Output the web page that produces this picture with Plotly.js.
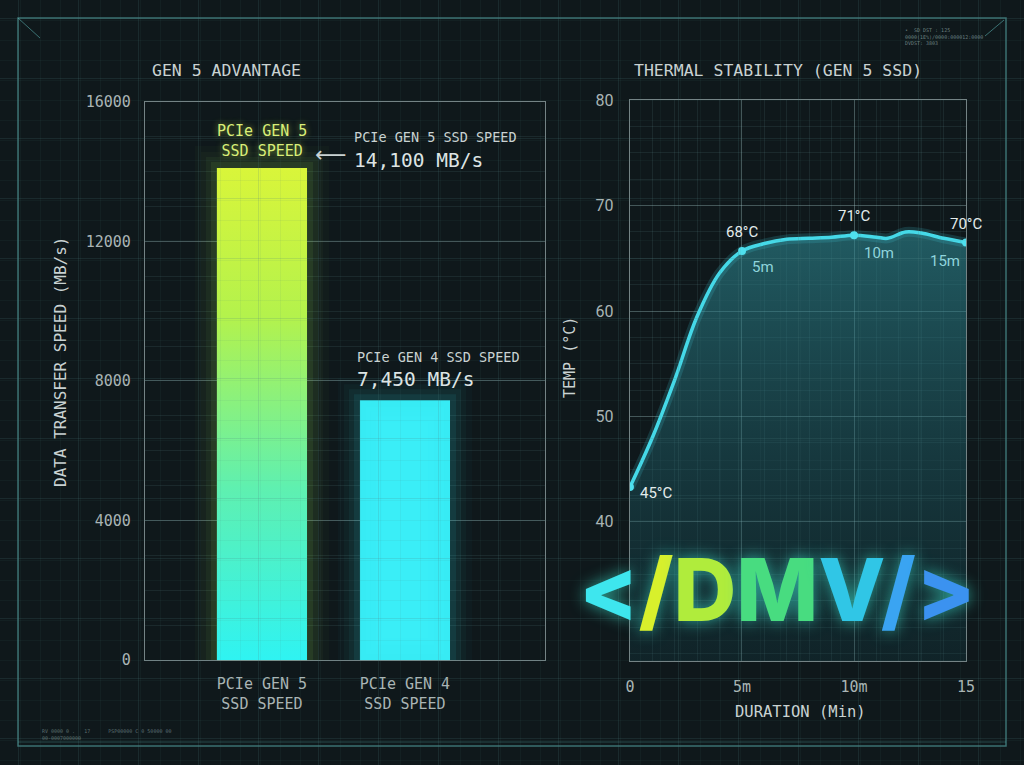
<!DOCTYPE html>
<html><head><meta charset="utf-8">
<script src="https://cdn.plot.ly/plotly-3.0.1.min.js"></script>
<style>html,body{margin:0;padding:0;background:#0e171a;} #chart{width:1024px;height:765px;}</style>
</head><body><div id="chart"></div>
<script>
// ---- data ----
const ssdCategories = ['PCIe GEN 5<br>SSD SPEED', 'PCIe GEN 4<br>SSD SPEED'];
const ssdSpeeds = [14100, 7450];
const speedTicks = [0, 4000, 8000, 12000, 16000];
const durationMin = [0, 1, 2, 3, 4, 5, 6, 7, 8, 9, 10, 11, 11.5, 12.3, 13, 14, 15];
const tempC = [43.3, 48.0, 53.5, 59.5, 63.6, 65.7, 66.4, 66.8, 66.9, 67.0, 67.2, 67.0, 66.9, 67.5, 67.4, 66.9, 66.5];
const markerMin = [0, 5, 10, 15];
const tempLabels = ['45°C', '68°C', '71°C', '70°C'];
const minuteLabels = ['', '5m', '10m', '15m'];
const durationTickVals = [0, 5, 10, 15];
const durationTickText = ['0', '5m', '10m', '15'];
const tempTicks = [40, 50, 60, 70, 80];

const MONO = 'DejaVu Sans Mono';
const TXT = '#c9d2d2';
const TICK = '#aab5b5';
const markerTemp = markerMin.map(m => tempC[durationMin.indexOf(m)]);
const barW = 0.63;
const catIdx = ssdSpeeds.map((_, i) => i);

function barOutline(i) {
  const x0 = catIdx[i] - barW / 2, x1 = catIdx[i] + barW / 2;
  return { x: [x0, x0, x1, x1, x0], y: [0, ssdSpeeds[i], ssdSpeeds[i], 0, 0] };
}
const gen5 = barOutline(0), gen4 = barOutline(1);

function glow(o, rgb) {
  return [[44, 0.025], [32, 0.035], [22, 0.05], [12, 0.08]].map(([w, a]) => ({
    type: 'scatter', x: o.x, y: o.y, mode: 'lines', line: { color: `rgba(${rgb},${a})`, width: w, shape: 'linear' },
    hoverinfo: 'skip', showlegend: false
  }));
}

const traces = [
  // background grid holder
  { type: 'scatter', x: [0], y: [0], xaxis: 'x3', yaxis: 'y3', mode: 'markers', marker: { opacity: 0 }, hoverinfo: 'skip', showlegend: false },
  ...glow(gen5, '160,240,90'),
  ...glow(gen4, '50,230,240'),
  // bars
  { type: 'bar', x: catIdx, y: ssdSpeeds, width: barW, marker: { color: ['#8cf06a', '#3aeef7'], line: { width: 0 } }, hoverinfo: 'y', showlegend: false },
  // gradient overlay for gen5 bar
  { type: 'scatter', x: gen5.x, y: gen5.y, mode: 'lines', fill: 'toself', line: { width: 0 },
    fillgradient: { type: 'vertical', colorscale: [[0, '#2ff3f2'], [0.35, '#5ff0b0'], [0.7, '#b4f24c'], [1, '#d9f53a']] },
    hoverinfo: 'skip', showlegend: false },
  // thermal fill
  { type: 'scatter', x: durationMin, y: tempC, xaxis: 'x2', yaxis: 'y2', mode: 'lines', line: { width: 0, shape: 'spline' }, fill: 'tozeroy',
    fillgradient: { type: 'vertical', start: 26.8, stop: 67.5, colorscale: [[0, 'rgba(20,70,80,0.25)'], [1, 'rgba(45,135,145,0.6)']] },
    hoverinfo: 'skip', showlegend: false },
  // line glow
  { type: 'scatter', x: durationMin, y: tempC, xaxis: 'x2', yaxis: 'y2', mode: 'lines', line: { width: 10, color: 'rgba(70,220,235,0.16)', shape: 'spline' }, hoverinfo: 'skip', showlegend: false },
  // line
  { type: 'scatter', x: durationMin, y: tempC, xaxis: 'x2', yaxis: 'y2', mode: 'lines', line: { width: 3.5, color: '#45d9e8', shape: 'spline' }, showlegend: false },
  // markers
  { type: 'scatter', x: markerMin, y: markerTemp, xaxis: 'x2', yaxis: 'y2', mode: 'markers', marker: { size: 8, color: '#4fe0ee' }, showlegend: false }
];

const P = (x, y) => ({ xref: 'paper', yref: 'paper', x: x / 1024, y: 1 - y / 765, showarrow: false });

const annotations = [
  Object.assign(P(150, 70), { xanchor: 'left', yanchor: 'middle', text: 'GEN 5 ADVANTAGE', font: { family: MONO, size: 16.5, color: TXT } }),
  Object.assign(P(632, 70), { xanchor: 'left', yanchor: 'middle', text: 'THERMAL STABILITY (GEN 5 SSD)', font: { family: MONO, size: 16.5, color: TXT } }),
  Object.assign(P(60, 362), { xanchor: 'center', yanchor: 'middle', textangle: -90, text: 'DATA TRANSFER SPEED (MB/s)', font: { family: MONO, size: 16, color: TXT } }),
  Object.assign(P(570, 358), { xanchor: 'center', yanchor: 'middle', textangle: -90, text: 'TEMP (°C)', font: { family: MONO, size: 15, color: TXT } }),
  Object.assign(P(800, 712), { xanchor: 'center', yanchor: 'middle', text: 'DURATION (Min)', font: { family: MONO, size: 15.5, color: TXT } }),
  // bar annotations
  { x: catIdx[0], y: ssdSpeeds[0], xanchor: 'center', yanchor: 'bottom', yshift: 6, showarrow: false, text: 'PCIe GEN 5<br>SSD SPEED', align: 'center', font: { family: MONO, size: 15, color: '#d9ee78', shadow: '0 0 6px rgba(200,240,80,0.6)' } },
  { x: 0.36, y: 14480, xanchor: 'left', yanchor: 'middle', showarrow: false, text: '⟵', font: { family: 'DejaVu Sans', size: 22, color: TXT } },
  { x: 0.63, y: 14996, xanchor: 'left', yanchor: 'middle', showarrow: false, text: 'PCIe GEN 5 SSD SPEED', font: { family: MONO, size: 13.5, color: TXT } },
  { x: 0.63, y: 14330, xanchor: 'left', yanchor: 'middle', showarrow: false, text: ssdSpeeds[0].toLocaleString('en-US') + ' MB/s', font: { family: MONO, size: 19.5, color: '#dde4e4' } },
  { x: 0.65, y: 8688, xanchor: 'left', yanchor: 'middle', showarrow: false, text: 'PCIe GEN 4 SSD SPEED', font: { family: MONO, size: 13.5, color: TXT } },
  { x: 0.65, y: 8030, xanchor: 'left', yanchor: 'middle', showarrow: false, text: ssdSpeeds[1].toLocaleString('en-US') + ' MB/s', font: { family: MONO, size: 19.5, color: '#dde4e4' } },
  // logo
  Object.assign(P(777, 589), { xanchor: 'center', yanchor: 'middle',
    text: '<span style="color:#3ee6ee">&lt;</span><span style="color:#d8f02c">/</span><span style="color:#b0ec3c">D</span><span style="color:#48dc80">M</span><span style="color:#30c6e6">V</span><span style="color:#3aa4f2">/</span><span style="color:#3b92f0">&gt;</span>',
    font: { family: 'Inter', size: 87, weight: 800, color: '#3ee6ee', shadow: '0 0 16px rgba(60,220,200,0.7)' } }),
  // tiny decorative text
  Object.assign(P(903, 36), { xanchor: 'left', yanchor: 'middle', align: 'left',
    text: '•  SD DST : 125<br>0000(1E%)/0000:000012:0000<br>DVDST: 3803', font: { family: MONO, size: 5, color: 'rgba(170,195,195,0.6)' } }),
  Object.assign(P(40, 734), { xanchor: 'left', yanchor: 'middle', align: 'left',
    text: 'RV 0000 0 .   17      PSP00000 C 0 50000 00<br>00-0007000000', font: { family: MONO, size: 5, color: 'rgba(170,195,195,0.5)' } })
];

markerMin.forEach((m, i) => {
  const t = markerTemp[i];
  if (i === 0) {
    annotations.push({ xref: 'x2', yref: 'y2', x: m, y: t, xanchor: 'left', yanchor: 'middle', xshift: 8, yshift: -6, showarrow: false, text: tempLabels[i], font: { family: 'Roboto', size: 15, color: '#e4ecec' } });
  } else {
    annotations.push({ xref: 'x2', yref: 'y2', x: m, y: t, xanchor: 'center', yanchor: 'bottom', yshift: 8, showarrow: false, text: tempLabels[i], font: { family: 'Roboto', size: 15, color: '#e4ecec' } });
    annotations.push({ xref: 'x2', yref: 'y2', x: m, y: t, xanchor: i === 3 ? 'right' : 'left', yanchor: 'top', xshift: i === 3 ? -4 : 8, yshift: i === 1 ? -5 : -7, showarrow: false, text: minuteLabels[i], font: { family: 'Roboto', size: 15, color: '#8fd4dc' } });
  }
});

const px = v => v / 1024, py = v => 1 - v / 765;
const frameColor = 'rgba(95,185,185,0.55)';
const shapes = [
  { type: 'rect', xref: 'paper', yref: 'paper', x0: px(18), x1: px(1006), y0: py(18), y1: py(746), line: { color: frameColor, width: 1.5 }, layer: 'below' },
  { type: 'line', xref: 'paper', yref: 'paper', x0: px(18), y0: py(18), x1: px(40), y1: py(38), line: { color: frameColor, width: 1 } },
  { type: 'line', xref: 'paper', yref: 'paper', x0: px(1004), y0: py(20), x1: px(985), y1: py(36), line: { color: frameColor, width: 1 } },
  { type: 'line', xref: 'paper', yref: 'paper', x0: px(18), y0: py(742), x1: px(1006), y1: py(742), line: { color: 'rgba(95,185,185,0.3)', width: 1 } }
];

const gridMajor = 'rgba(175,210,210,0.28)';
const gridMinor = 'rgba(110,160,160,0.13)';
const axisLine = 'rgba(200,220,220,0.55)';

const layout = {
  width: 1024, height: 765,
  margin: { l: 0, r: 0, t: 0, b: 0 },
  paper_bgcolor: '#0f181b',
  plot_bgcolor: 'rgba(0,0,0,0)',
  showlegend: false,
  xaxis: {
    domain: [0.1416, 0.5322], range: [-0.818, 1.979], anchor: 'y',
    tickvals: catIdx, ticktext: ssdCategories, ticks: 'outside', ticklen: 10, tickcolor: 'rgba(0,0,0,0)',
    tickfont: { family: MONO, size: 15, color: TICK },
    showgrid: false, zeroline: false, showline: true, linecolor: axisLine, linewidth: 1.2, mirror: true
  },
  yaxis: {
    domain: [0.137, 0.867], range: [0, 16000], anchor: 'x',
    tickvals: speedTicks, tickformat: 'd', ticks: 'outside', ticklen: 10, tickcolor: 'rgba(0,0,0,0)',
    tickfont: { family: MONO, size: 15, color: TICK },
    showgrid: true, gridcolor: gridMajor, gridwidth: 1,
    minor: { dtick: 1000, showgrid: true, gridcolor: gridMinor },
    zeroline: false, showline: true, linecolor: axisLine, linewidth: 1.2, mirror: true
  },
  xaxis2: {
    domain: [0.6152, 0.9434], range: [0, 15], anchor: 'y2',
    tickvals: durationTickVals, ticktext: durationTickText, ticks: 'outside', ticklen: 12, tickcolor: 'rgba(0,0,0,0)',
    tickfont: { family: MONO, size: 15, color: TICK },
    showgrid: true, gridcolor: gridMajor, minor: { dtick: 1, showgrid: true, gridcolor: gridMinor },
    zeroline: false, showline: true, linecolor: axisLine, linewidth: 1.2, mirror: true
  },
  yaxis2: {
    domain: [0.136, 0.869], range: [26.8, 80], anchor: 'x2',
    tickvals: tempTicks, ticks: 'outside', ticklen: 12, tickcolor: 'rgba(0,0,0,0)',
    tickfont: { family: 'Roboto', size: 16, color: TICK },
    showgrid: true, gridcolor: gridMajor, minor: { dtick: 2.5, showgrid: true, gridcolor: gridMinor },
    zeroline: false, showline: true, linecolor: axisLine, linewidth: 1.2, mirror: true
  },
  xaxis3: {
    domain: [0, 1], range: [0, 1024], anchor: 'y3', showticklabels: false, ticks: '',
    showgrid: true, dtick: 60, tick0: 18, gridcolor: 'rgba(80,130,130,0.18)',
    minor: { dtick: 20, showgrid: true, gridcolor: 'rgba(80,130,130,0.08)' },
    zeroline: false, showline: false
  },
  yaxis3: {
    domain: [0, 1], range: [765, 0], anchor: 'x3', showticklabels: false, ticks: '',
    showgrid: true, dtick: 60, tick0: 18, gridcolor: 'rgba(80,130,130,0.18)',
    minor: { dtick: 20, showgrid: true, gridcolor: 'rgba(80,130,130,0.08)' },
    zeroline: false, showline: false
  },
  annotations: annotations,
  shapes: shapes
};

Plotly.newPlot('chart', traces, layout, { displayModeBar: false, staticPlot: true });
</script>
</body></html>
